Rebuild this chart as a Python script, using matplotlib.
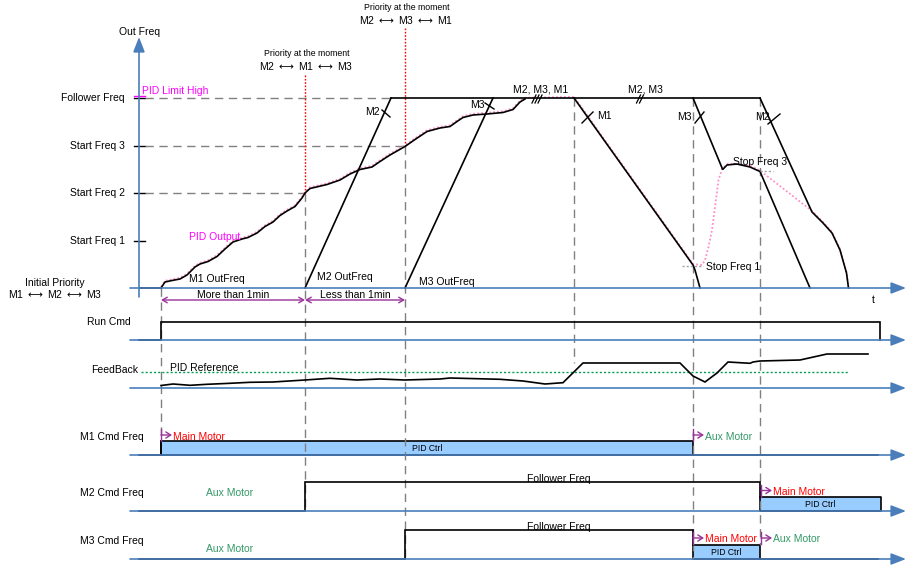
import matplotlib
matplotlib.use("Agg")
import matplotlib.pyplot as plt
import numpy as np

plt.rcParams['font.family'] = ['Liberation Sans', 'DejaVu Sans']

# diagram is drawn in a pixel-like coordinate frame (x right, y down)
# event times on the x axis
t_events = [161, 305, 405, 574, 693, 760]
t_end = 880

# out-freq levels (y)
level_names = ['Follower Freq', 'Start Freq 3', 'Start Freq 2', 'Start Freq 1']
level_y = [98, 146, 193, 241]

# channel baselines
base_top = 288
chan_names = ['Run Cmd', 'FeedBack', 'M1 Cmd Freq', 'M2 Cmd Freq', 'M3 Cmd Freq']
chan_base = [340, 388, 455, 511, 559]
chan_label_x = [109, 115, 112, 112, 112]

# PID output / M1 out freq ramp up
m1_x = [161, 165, 172, 180, 187, 195, 200, 208, 217, 225, 233, 242, 248, 257, 265,
        273, 280, 287, 295, 302, 305, 310, 327, 340, 350, 360, 372, 380, 390, 405,
        415, 427, 440, 450, 457, 463, 473, 487, 503, 513, 520, 525]
m1_y = [288, 282, 280.5, 279, 275, 267, 264, 261.5, 256.5, 249, 242, 239, 237.5, 233, 226.5,
        222, 215.5, 211, 206.5, 198, 193, 188.5, 184.5, 180, 174, 169.5, 167, 161.5, 155, 146.5,
        139.5, 131.5, 128, 126.5, 121.5, 117.5, 115, 114, 112.5, 109.5, 102, 99]
# M1 ramp down
m1d_x = [574, 693, 695, 700]
m1d_y = [98, 265, 270, 288]
# M2 / M3 ramps up
m2_up = ([305, 391], [288, 98])
m3_up = ([405, 493], [288, 98])
# M3 ramp down with stop freq 3 hump
m3d_x = [693, 722.7, 727, 737, 750, 760, 810]
m3d_y = [98, 169.5, 165, 164, 167, 171.5, 288]
# M2 ramp down
m2d_x = [760, 812, 823, 832, 840, 846.5, 848.5]
m2d_y = [98, 212, 223, 233, 250, 273, 288]
# PID output during stop phase
pid_stop_x = [693, 702, 705, 708.5, 712, 715, 718.5, 722, 728, 750, 760, 812]
pid_stop_y = [265, 265, 260, 247, 230, 207, 180, 169, 163.5, 165.5, 170.5, 211]

# feedback signal
fb_x = [161, 173, 190, 207, 230, 250, 273, 305, 330, 357, 380, 405, 440, 450, 500, 523,
        545, 563, 583, 680, 693, 705, 717, 728, 750, 753, 760, 800, 827, 868]
fb_y = [385.5, 384, 385.3, 384.3, 383.3, 382.3, 382, 380, 378.3, 380, 379, 380, 379, 378,
        379.3, 381, 384, 382.7, 363, 363, 376, 382, 373, 362, 363.3, 362, 361, 360, 354, 354]
pid_ref_y = 371.5

blue = '#4A7EBB'
grey = '#808080'
purple = '#993399'
pink = '#FF8FC8'
green = '#339966'
boxc = '#99CCFF'
fs = 7.5
arr = r' $\longleftrightarrow$ '

fig = plt.figure(figsize=(9.07, 5.65), dpi=100)
ax = fig.add_axes([0, 0, 1, 1])
ax.set_xlim(0, 907)
ax.set_ylim(565, 0)
ax.axis('off')


def axis_arrow(y, x0=130, x1=906):
    ax.annotate('', xy=(x1, y), xytext=(x0, y),
                arrowprops=dict(arrowstyle='-|>,head_length=0.9,head_width=0.35',
                                color=blue, lw=1.2, shrinkA=0, shrinkB=0))


def blk(x, y, lw=1.2):
    ax.plot(x, y, color='black', lw=lw, solid_joinstyle='miter')


def dashed(x, y):
    ax.plot(x, y, color=grey, lw=1, ls=(0, (6, 4)))


# ---- top out-freq chart ----
axis_arrow(base_top)
ax.annotate('', xy=(139, 37), xytext=(139, 297),
            arrowprops=dict(arrowstyle='-|>,head_length=0.9,head_width=0.35',
                            color=blue, lw=1.2, shrinkA=0, shrinkB=0))
ax.text(140, 32, 'Out Freq', fontsize=fs, ha='center', va='center')

for name, y in zip(level_names, level_y):
    ax.plot([134, 145], [y, y], color='black', lw=1)
    ax.text(125, y, name, fontsize=fs, ha='right', va='center')
dashed([145, 391], [level_y[0]] * 2)
dashed([145, 405], [level_y[1]] * 2)
dashed([145, 305], [level_y[2]] * 2)
ax.plot([134, 145], [96, 96], color='magenta', lw=1)
ax.text(142, 91, 'PID Limit High', fontsize=fs, color='magenta', ha='left', va='center')

# vertical event lines
dashed([t_events[0]] * 2, [288, 441])
dashed([t_events[1]] * 2, [193, 511])
dashed([t_events[2]] * 2, [146, 559])
dashed([t_events[3]] * 2, [98, 363])
dashed([t_events[4]] * 2, [98, 559])
dashed([t_events[5]] * 2, [98, 545])
ax.plot([305, 305], [75, 193], color='red', lw=1, ls=(0, (1.2, 1.2)))
ax.plot([405, 405], [28, 146], color='red', lw=1, ls=(0, (1.2, 1.2)))

ax.text(307, 54, 'Priority at the moment', fontsize=6.3, ha='center', va='center')
ax.text(306, 66, 'M2' + arr + 'M1' + arr + 'M3', fontsize=fs, ha='center', va='center')
ax.text(407, 8, 'Priority at the moment', fontsize=6.3, ha='center', va='center')
ax.text(406, 20, 'M2' + arr + 'M3' + arr + 'M1', fontsize=fs, ha='center', va='center')
ax.text(55, 283, 'Initial Priority', fontsize=fs, ha='center', va='center')
ax.text(55, 294, 'M1' + arr + 'M2' + arr + 'M3', fontsize=fs, ha='center', va='center')

# pink PID output (dotted) under the black curves
ax.plot(m1_x + [574] + m1d_x[1:2] + pid_stop_x[1:] + m2d_x[1:],
        [v - 1.2 for v in m1_y] + [96.8] + [m1d_y[1] - 1] + pid_stop_y[1:] + [v - 1 for v in m2d_y[1:]],
        color=pink, lw=1.3, ls=(0, (1, 1.2)))
blk([139, 161], [288, 288])
blk(m1_x, m1_y)
blk([391, 760], [98, 98])
blk(m1d_x, m1d_y)
blk(*m2_up)
blk(*m3_up)
blk(m3d_x, m3d_y)
blk(m2d_x, m2d_y)

# stop freq references
ax.plot([682, 703], [266, 266], color='#A0A0A0', lw=1, ls=(0, (1.5, 1.5)))
ax.text(706, 267, 'Stop Freq 1', fontsize=fs, ha='left', va='center')
ax.plot([760, 773], [171, 171], color='#A0A0A0', lw=1, ls=(0, (1.5, 1.5)))
ax.text(733, 162, 'Stop Freq 3', fontsize=fs, ha='left', va='center')

# motor marks
for (xa, ya, xb, yb) in [(382, 110, 390, 117), (485, 103, 494, 109), (582, 123, 593, 112),
                         (695, 123, 704, 112), (768, 124, 780, 114)]:
    ax.plot([xa, xb], [ya, yb], color='black', lw=1)
ax.text(372, 112, 'M2', fontsize=fs, ha='center', va='center')
ax.text(477, 105, 'M3', fontsize=fs, ha='center', va='center')
ax.text(597, 116, 'M1', fontsize=fs, ha='left', va='center')
ax.text(684, 117, 'M3', fontsize=fs, ha='center', va='center')
ax.text(762, 117, 'M2', fontsize=fs, ha='center', va='center')
ax.text(541, 89, 'M2, M3, M1', fontsize=fs, ha='center', va='center')
ax.text(645, 89, 'M2, M3', fontsize=fs, ha='center', va='center')
for dx in [-3, 0, 3]:
    ax.plot([535 + dx, 539 + dx], [103, 95], color='black', lw=0.9)
for dx in [-1.5, 1.5]:
    ax.plot([638 + dx, 642 + dx], [103, 95], color='black', lw=0.9)

ax.text(189, 279, 'M1 OutFreq', fontsize=fs, ha='left', va='center')
ax.text(317, 277, 'M2 OutFreq', fontsize=fs, ha='left', va='center')
ax.text(419, 282, 'M3 OutFreq', fontsize=fs, ha='left', va='center')
ax.text(189, 237, 'PID Output', fontsize=fs, color='magenta', ha='left', va='center')
ax.text(873, 300, 't', fontsize=fs, ha='center', va='center')

# time spans
for xa, xb, label in [(161, 305, 'More than 1min'), (305, 405, 'Less than 1min')]:
    ax.annotate('', xy=(xb, 300), xytext=(xa, 300),
                arrowprops=dict(arrowstyle='<->,head_length=0.35,head_width=0.2',
                                color=purple, lw=1, shrinkA=0, shrinkB=0))
    ax.text((xa + xb) / 2, 295, label, fontsize=fs, ha='center', va='center')

# ---- lower channels ----
for name, y, lx in zip(chan_names, chan_base, chan_label_x):
    axis_arrow(y)
    ax.text(lx, y - 18, name, fontsize=fs, ha='center', va='center')

# run cmd
blk([139, 161, 161, t_end, t_end], [340, 340, 321.5, 321.5, 340])

# feedback
ax.plot([141, 848], [pid_ref_y] * 2, color='#00A050', lw=1, ls=(0, (1.5, 1.5)))
ax.text(170, 368, 'PID Reference', fontsize=fs, ha='left', va='center')
blk(fb_x, fb_y)


def pid_box(x0, x1, ybase, h=14):
    ax.fill_between([x0, x1], [ybase - h] * 2, [ybase] * 2, facecolor=boxc,
                    edgecolor='black', lw=1.2)
    ax.text((x0 + x1) / 2, ybase - h / 2 + 0.5, 'PID Ctrl', fontsize=6.2, ha='center', va='center')


def tag(x, y, label, color):
    ax.plot([x, x], [y - 6, y + 6], color=purple, lw=1)
    ax.annotate('', xy=(x + 11, y), xytext=(x, y),
                arrowprops=dict(arrowstyle='->,head_length=0.35,head_width=0.22',
                                color=purple, lw=1, shrinkA=0, shrinkB=0))
    ax.text(x + 12, y + 1.5, label, fontsize=fs, color=color, ha='left', va='center')


# M1
b = chan_base[2]
blk([139, 161, 161], [b, b, b - 14])
pid_box(161, 693, b)
blk([693, 878], [b, b])
tag(161, 435, 'Main Motor', 'red')
tag(693, 435, 'Aux Motor', green)

# M2
b = chan_base[3]
blk([139, 305, 305, 760, 760], [b, b, b - 29, b - 29, b - 14])
pid_box(760, 881, b)
ax.text(559, 478.5, 'Follower Freq', fontsize=fs, ha='center', va='center')
ax.text(230, 492.5, 'Aux Motor', fontsize=fs, color=green, ha='center', va='center')
tag(761, 490.5, 'Main Motor', 'red')

# M3
b = chan_base[4]
blk([139, 405, 405, 693, 693], [b, b, b - 29, b - 29, b - 14])
pid_box(693, 760, b)
blk([760, 878], [b, b])
ax.text(559, 526.5, 'Follower Freq', fontsize=fs, ha='center', va='center')
ax.text(230, 549, 'Aux Motor', fontsize=fs, color=green, ha='center', va='center')
tag(693, 538, 'Main Motor', 'red')
tag(761, 538, 'Aux Motor', green)

fig.savefig('out.png', dpi=100)
